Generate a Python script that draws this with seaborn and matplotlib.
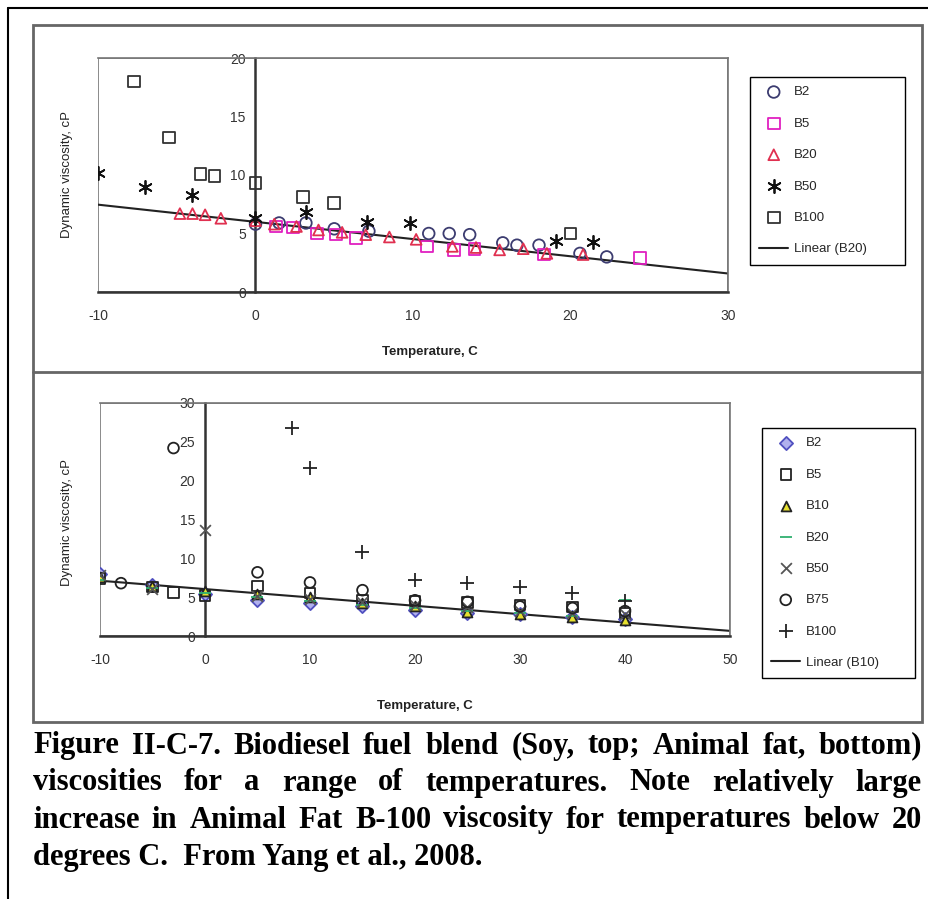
import matplotlib
matplotlib.use("Agg")
import matplotlib.pyplot as plt
import seaborn as sns
import pandas as pd
from matplotlib.lines import Line2D
from matplotlib.patches import Rectangle

# top panel: soy blends, temperature (C) vs viscosity (cP)
soy_b2_t = [0.0, 1.5, 3.2, 5.0, 7.2, 11.0, 12.3, 13.6, 15.7, 16.6, 18.0, 20.6, 22.3]
soy_b2_v = [5.8, 5.9, 5.9, 5.4, 5.2, 5.0, 5.0, 4.9, 4.2, 4.0, 4.0, 3.3, 3.0]
soy_b5_t = [1.3, 2.4, 3.9, 5.1, 6.4, 10.9, 12.6, 13.9, 18.3, 24.4]
soy_b5_v = [5.6, 5.5, 5.0, 4.9, 4.6, 3.9, 3.6, 3.7, 3.2, 2.9]
soy_b20_t = [-4.8, -4.0, -3.2, -2.2, 0.0, 1.2, 2.6, 4.0, 5.5, 7.0, 8.5, 10.2, 12.5, 14.0, 15.5, 17.0, 18.5, 20.8]
soy_b20_v = [6.7, 6.7, 6.6, 6.3, 6.1, 5.8, 5.6, 5.3, 5.1, 4.9, 4.7, 4.5, 3.9, 3.8, 3.6, 3.7, 3.3, 3.2]
soy_b50_t = [-10.0, -7.0, -4.0, 0.0, 3.2, 7.1, 9.8, 19.1, 21.4]
soy_b50_v = [10.2, 9.0, 8.3, 6.3, 6.8, 6.0, 5.9, 4.4, 4.3]
soy_b100_t = [-7.7, -5.5, -3.5, -2.6, 0.0, 3.0, 5.0, 20.0]
soy_b100_v = [18.0, 13.2, 10.1, 9.9, 9.3, 8.1, 7.6, 5.0]

# bottom panel: animal fat blends
fat_b2_t = [-10, -5, 0, 5, 10, 15, 20, 25, 30, 35, 40]
fat_b2_v = [8.0, 6.6, 5.4, 4.6, 4.2, 3.9, 3.4, 3.0, 2.8, 2.5, 2.2]
fat_b5_t = [-10, -5, -3, 0, 5, 10, 15, 20, 25, 30, 35, 40]
fat_b5_v = [7.4, 6.3, 5.6, 5.2, 6.4, 5.5, 4.6, 4.5, 4.3, 4.0, 3.7, 3.0]
fat_b10_t = [-10, -5, 0, 5, 10, 15, 20, 25, 30, 35, 40]
fat_b10_v = [7.6, 6.5, 5.8, 5.4, 5.0, 4.3, 3.8, 3.1, 2.8, 2.4, 2.0]
fat_b20_t = [-10, -5, 0, 5, 10, 15, 20, 25, 30, 35, 40]
fat_b20_v = [7.2, 6.2, 5.5, 5.0, 4.5, 4.0, 3.6, 3.2, 2.9, 2.6, 4.6]
fat_b50_t = [-10, -5, 0, 5, 10, 15, 20, 25, 30, 35, 40]
fat_b50_v = [7.8, 6.0, 13.6, 5.2, 4.8, 4.4, 4.0, 3.7, 3.2, 3.0, 2.8]
fat_b75_t = [-8, -3, 5, 10, 15, 20, 25, 30, 35, 40]
fat_b75_v = [6.8, 24.2, 8.2, 6.9, 5.9, 4.6, 4.4, 3.8, 3.6, 3.2]
fat_b100_t = [8.3, 10, 15, 20, 25, 30, 35, 40]
fat_b100_v = [26.8, 21.6, 10.8, 7.2, 6.8, 6.3, 5.5, 4.5]

top_xticks = [-10, 0, 10, 20, 30]
top_yticks = [0, 5, 10, 15, 20]
bot_xticks = [-10, 0, 10, 20, 30, 40, 50]
bot_yticks = [0, 5, 10, 15, 20, 25, 30]

caption = ["Figure II-C-7.  Biodiesel fuel blend (Soy, top; Animal fat, bottom)",
           "viscosities for a range of temperatures.  Note relatively large",
           "increase in Animal Fat B-100 viscosity for temperatures below 20",
           "degrees C.  From Yang et al., 2008."]

sns.set_style("white")
plt.rcParams["font.family"] = ["Liberation Sans", "DejaVu Sans"]
plt.rcParams["axes.unicode_minus"] = False

W, H = 929, 899
fig = plt.figure(figsize=(W / 100, H / 100), dpi=100)

def fx(px):
    return px / W

def fy(py):
    return 1 - py / H

# page frame and chart frame
fig.add_artist(Line2D([fx(8), 1], [fy(8), fy(8)], color="black", lw=1.5))
fig.add_artist(Line2D([fx(8), fx(8)], [fy(8), 0], color="black", lw=1.5))
fig.add_artist(Rectangle((fx(33), fy(722)), fx(922) - fx(33), fy(25) - fy(722),
                         fill=False, ec="#666666", lw=2))
fig.add_artist(Line2D([fx(33), fx(922)], [fy(372), fy(372)], color="#666666", lw=2))

ax1 = fig.add_axes([fx(98), fy(292), fx(728) - fx(98), fy(58) - fy(292)])
ax2 = fig.add_axes([fx(100), fy(636), fx(730) - fx(100), fy(403) - fy(636)])


def hollow(ax, t, v, label, marker, color, size):
    sns.scatterplot(x=t, y=v, ax=ax, marker=marker, s=size, facecolor="none",
                    edgecolor=color, linewidth=1.3, label=label, zorder=3)


def solid(ax, t, v, label, marker, color, size, edge=None):
    sns.scatterplot(x=t, y=v, ax=ax, marker=marker, s=size, color=color,
                    edgecolor=edge if edge else color, linewidth=1.3, label=label, zorder=3)


# top panel
ax1.set_xlim(-10, 30)
ax1.set_ylim(0, 20)
hollow(ax1, soy_b2_t, soy_b2_v, "B2", "o", "#3c3c70", 70)
hollow(ax1, soy_b5_t, soy_b5_v, "B5", "s", "#e020c0", 70)
hollow(ax1, soy_b20_t, soy_b20_v, "B20", "^", "#e03050", 60)
solid(ax1, soy_b50_t, soy_b50_v, "B50", (6, 2, 0), "#111111", 90)
hollow(ax1, soy_b100_t, soy_b100_v, "B100", "s", "#333333", 70)
sns.regplot(x=soy_b20_t, y=soy_b20_v, ax=ax1, scatter=False, ci=None, truncate=False,
            color="#222222", line_kws={"lw": 1.5, "zorder": 2}, label="Linear (B20)")

# bottom panel
ax2.set_xlim(-10, 50)
ax2.set_ylim(0, 30)
solid(ax2, fat_b2_t, fat_b2_v, "B2", "D", "#b0b0ee", 45, edge="#5050c0")
hollow(ax2, fat_b5_t, fat_b5_v, "B5", "s", "#222222", 55)
solid(ax2, fat_b10_t, fat_b10_v, "B10", "^", "#e6e030", 50, edge="#222222")
solid(ax2, fat_b20_t, fat_b20_v, "B20", "_", "#30b070", 70)
solid(ax2, fat_b50_t, fat_b50_v, "B50", "x", "#555555", 60)
hollow(ax2, fat_b75_t, fat_b75_v, "B75", "o", "#222222", 60)
solid(ax2, fat_b100_t, fat_b100_v, "B100", "+", "#222222", 110)
sns.regplot(x=fat_b10_t, y=fat_b10_v, ax=ax2, scatter=False, ci=None, truncate=False,
            color="#222222", line_kws={"lw": 1.5, "zorder": 2}, label="Linear (B10)")

for ax, xt, yt in [(ax1, top_xticks, top_yticks), (ax2, bot_xticks, bot_yticks)]:
    ax.set_xticks(xt)
    ax.set_yticks(yt)
    ax.spines["left"].set_position(("data", 0))
    ax.spines["left"].set_color("#333333")
    ax.spines["left"].set_linewidth(1.8)
    ax.spines["bottom"].set_color("#333333")
    ax.spines["bottom"].set_linewidth(1.8)
    for s in ["top", "right"]:
        ax.spines[s].set_color("#777777")
        ax.spines[s].set_linewidth(1.2)
    ax.add_patch(Rectangle((0, 0), 1, 1, transform=ax.transAxes, fill=False,
                           ec="#777777", lw=1.2, zorder=0))
    ax.tick_params(axis="x", direction="inout", length=8, width=1.5, labelsize=10,
                   labelcolor="#333333", pad=8)
    ax.tick_params(axis="y", direction="out", length=5, width=1.5, labelsize=10,
                   labelcolor="#333333", pad=2)
    ax.set_xlabel("")
    ax.set_ylabel("")
    ax.set_facecolor("white")

ax1.legend(loc="upper left", bbox_to_anchor=(fx(750), fy(77) - 0.01, fx(905) - fx(750), 0.01),
           bbox_transform=fig.transFigure, mode="expand", borderaxespad=0,
           fancybox=False, edgecolor="black", framealpha=1, fontsize=9.5,
           labelspacing=1.45, handlelength=2.2, handletextpad=0.4, borderpad=0.7)
ax2.legend(loc="upper left", bbox_to_anchor=(fx(762), fy(428) - 0.01, fx(915) - fx(762), 0.01),
           bbox_transform=fig.transFigure, mode="expand", borderaxespad=0,
           fancybox=False, edgecolor="black", framealpha=1, fontsize=9.5,
           labelspacing=1.45, handlelength=2.2, handletextpad=0.4, borderpad=0.7)

# axis titles
fig.text(fx(430), fy(352), "Temperature, C", ha="center", va="center",
         fontsize=9.5, fontweight="bold", color="#222222")
fig.text(fx(425), fy(706), "Temperature, C", ha="center", va="center",
         fontsize=9.5, fontweight="bold", color="#222222")
fig.text(fx(67), fy(175), "Dynamic viscosity, cP", ha="center", va="center",
         rotation=90, fontsize=9.5, color="#222222")
fig.text(fx(67), fy(522), "Dynamic viscosity, cP", ha="center", va="center",
         rotation=90, fontsize=9.5, color="#222222")

# justified caption
cap_font = dict(family="Liberation Serif", fontweight="bold", fontsize=22, color="black")
cap_y = [746, 783, 820, 857]
fig.canvas.draw()
rend = fig.canvas.get_renderer()
left_px, right_px = 33, 922
for i, line in enumerate(caption):
    if i == len(caption) - 1:
        fig.text(fx(left_px), fy(cap_y[i]), line, ha="left", va="center", **cap_font)
        continue
    words = line.split()
    widths = []
    for w in words:
        t = fig.text(0, 0, w, **cap_font)
        widths.append(t.get_window_extent(rend).width)
        t.remove()
    gap = (right_px - left_px - sum(widths)) / (len(words) - 1)
    x = left_px
    for w, wd in zip(words, widths):
        fig.text(fx(x), fy(cap_y[i]), w, ha="left", va="center", **cap_font)
        x += wd + gap

fig.savefig("out.png", dpi=100)
